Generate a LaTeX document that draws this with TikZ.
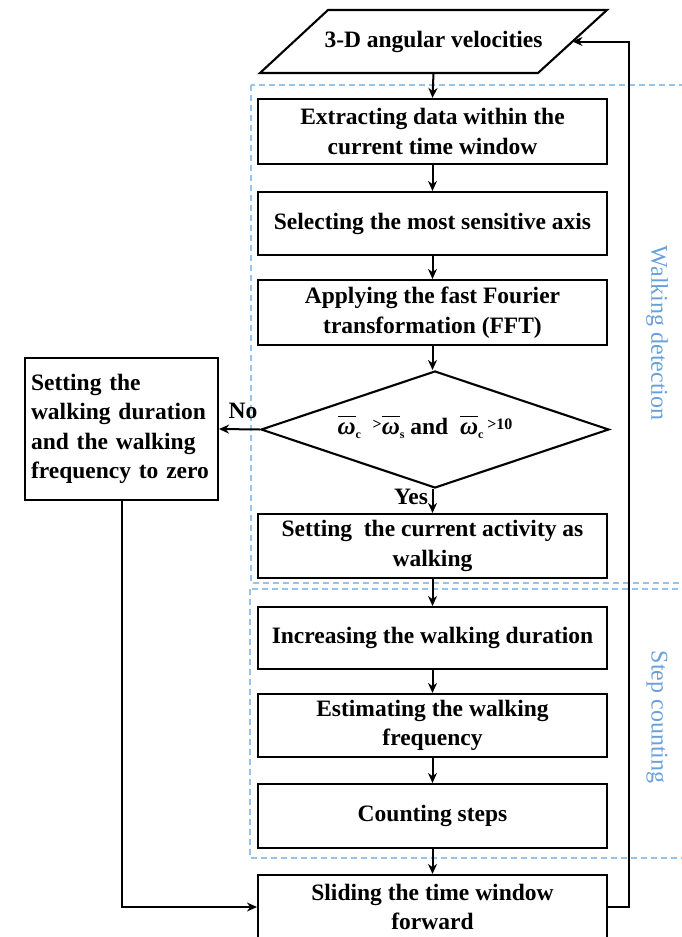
\documentclass[tikz,border=0pt]{standalone}
\usepackage{fontspec}
\setmainfont{Liberation Serif}
\usetikzlibrary{arrows.meta,shapes.geometric,calc}

\definecolor{regionblue}{RGB}{150,195,235}
\definecolor{labelblue}{RGB}{105,160,220}

% bold italic omega with a bar, and the small sub/inline symbols of the test
\newcommand\wbar{\ensuremath{\overline{\hbox{\rule{0pt}{17pt}\bfseries\itshape\fontsize{25}{25}\selectfont ω}}}}
\newcommand\lowsub[1]{\raisebox{-0.4ex}{\fontsize{12}{12}\selectfont #1}}
\newcommand\highrel[1]{\raisebox{0.45ex}{\fontsize{16}{16}\selectfont #1}}

\begin{document}
\begin{tikzpicture}[x=1pt,y=-1pt,
  txt/.style={font=\bfseries\fontsize{23.5}{29.5}\selectfont},
  stepbox/.style={txt, draw, line width=2.1pt, minimum width=349pt,
    inner sep=0pt, align=center},
  flow/.style={line width=2pt, -{Stealth[length=10pt,width=9pt]}},
  region/.style={regionblue, line width=1.5pt, dash pattern=on 6pt off 4pt},
  regionlabel/.style={labelblue, rotate=-90, font=\fontsize{24}{24}\selectfont}]

\useasboundingbox (0,0) rectangle (682,937);

% dashed frames of the two stages
\draw[region] (251,85) rectangle (720,583);
\draw[region] (250,589) rectangle (720,858);
\node[regionlabel] (wd) at (657,333) {Walking detection};
\node[regionlabel] (sc) at (657,717) {Step counting};

% input parallelogram
\coordinate (pTL) at (328,10);
\coordinate (pTR) at (607,10);
\coordinate (pBR) at (538,73);
\coordinate (pBL) at (260,73);
\draw[line width=2.1pt] (pTL) -- (pTR) -- (pBR) -- (pBL) -- cycle;
\node[txt, minimum width=279pt, minimum height=63pt, inner sep=0pt]
  (in) at (433.5,41.5) {3-D angular velocities};
\coordinate (inR) at ($(pTR)!0.5!(pBR)$);

% process boxes
\node[stepbox, minimum height=65pt] (b1) at (432.5,131.5)
  {Extracting data within the\\current time window};
\node[stepbox, minimum height=63pt] (b2) at (432.5,223.5)
  {Selecting the most sensitive axis};
\node[stepbox, minimum height=65pt] (b3) at (432.5,312.5)
  {Applying the fast Fourier\\transformation (FFT)};
\node[draw, diamond, line width=2.1pt, minimum width=348pt,
  minimum height=117pt, inner sep=0pt] (dec) at (435,429.5) {};
\node[txt] (dectext) at (425,427)
  {\wbar\lowsub{c}\ \ \highrel{>}\wbar\lowsub{s}\ and\ \ \wbar\lowsub{c}\,\highrel{>10}};
\node[stepbox, minimum height=64pt] (b4) at (432.5,546)
  {Setting\ \ the current activity as\\walking};
\node[stepbox, minimum height=62pt] (b5) at (432.5,638)
  {Increasing the walking duration};
\node[stepbox, minimum height=63pt] (b6) at (432.5,725.5)
  {Estimating the walking\\frequency};
\node[stepbox, minimum height=64pt] (b7) at (432.5,816)
  {Counting steps};
\node[stepbox, minimum height=64pt] (b8) at (432.5,907)
  {Sliding the time window\\forward};
\node[stepbox, minimum width=193pt, minimum height=142pt,
  text width=181pt, align=left, inner xsep=6pt] (reset) at (121.5,429)
  {Setting the\\walking duration\\and the walking\\frequency to zero};

% connectors
\draw[flow] (in.south) -- (b1.north);
\draw[flow] (b1) -- (b2);
\draw[flow] (b2) -- (b3);
\draw[flow] (b3.south) -- (b3.south |- dec.north);
\draw[flow] (b3.south |- dec.south) -- (b4.north);
\draw[flow] (b4) -- (b5);
\draw[flow] (b5) -- (b6);
\draw[flow] (b6) -- (b7);
\draw[flow] (b7) -- (b8);
\draw[flow] (dec.west) -- (reset.east);
\draw[flow] (reset.south) |- (b8.west);
\draw[flow] (b8.east) -- ++(21,0) |- (inR);

% branch labels
\node[txt] (no) at (243,411) {No};
\node[txt] (yes) at (411,497) {Yes};
\end{tikzpicture}
\end{document}
